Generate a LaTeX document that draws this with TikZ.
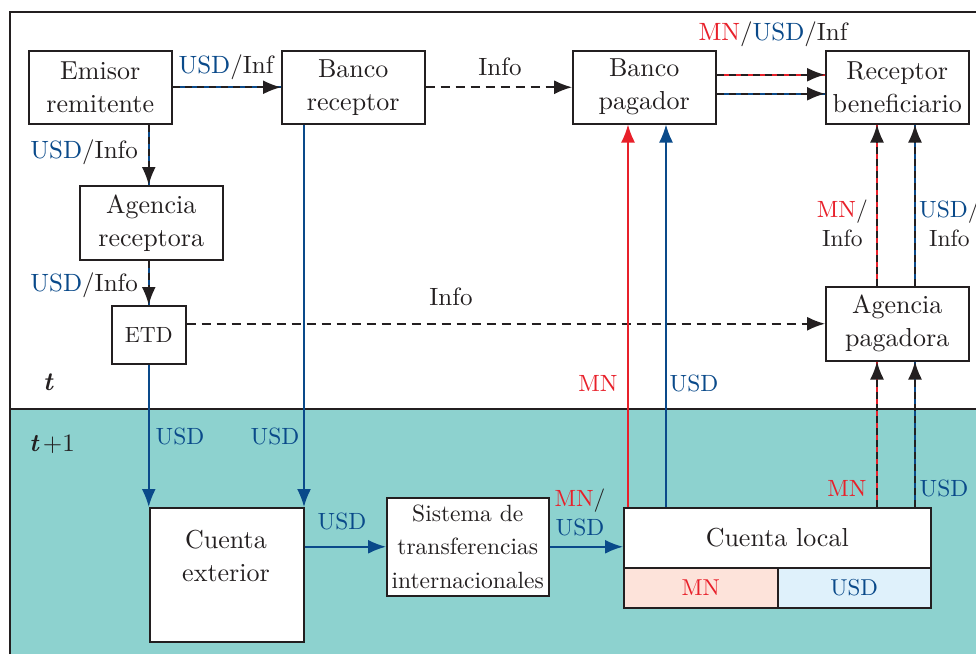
\documentclass[tikz,border=0pt]{standalone}
\usepackage{fontspec}
\setmainfont{lmroman10-regular.otf}[BoldFont=lmroman10-bold.otf, ItalicFont=lmroman10-italic.otf, BoldItalicFont=lmroman10-bolditalic.otf]
\usetikzlibrary{arrows.meta}
\definecolor{myred}{HTML}{E8202A}
\definecolor{myblue}{HTML}{0A4A8A}
\definecolor{tealbg}{HTML}{8DD2CF}
\definecolor{ink}{HTML}{231F20}
\definecolor{pinkfill}{HTML}{FDE3DA}
\definecolor{bluefill}{HTML}{DFF1FB}
\newcommand\comboline[3]{%
  \draw[line width=1.8pt, draw=#1] #2 -- #3;
  \draw[line width=1.8pt, draw=ink, dash pattern=on 7pt off 5pt, tip] #2 -- #3;}
\begin{document}
\begin{tikzpicture}[x=1pt,y=-1pt,
  box/.style={draw=ink, line width=1.5pt, fill=white, align=center, inner sep=0pt, text=ink,
    anchor=north west, font=\fontsize{26}{33}\selectfont},
  lbl/.style={inner sep=0pt, text=ink, font=\fontsize{25}{30}\selectfont, align=center},
  slbl/.style={inner sep=0pt, font=\fontsize{23.5}{29}\selectfont, align=center},
  tip/.style={-{Latex[length=18pt,width=14pt]}},
  infoarrow/.style={line width=1.6pt, draw=ink, dash pattern=on 9pt off 6pt, tip},
  money/.style={line width=1.8pt, draw=#1, tip}]
\clip (0,0) rectangle (976,654);
% background
\fill[white] (0,0) rectangle (976,654);
\fill[tealbg] (10,409) rectangle (976,654);
\draw[ink, line width=1.6pt] (10,654) -- (10,12) -- (976,12);
\draw[ink, line width=1.6pt] (10,409) -- (976,409);
% boxes
\node[box, minimum width=143pt, minimum height=73pt] (emisor) at (28,50) {Emisor\\remitente};
\node[box, minimum width=143pt, minimum height=73pt] (brec) at (281,50) {Banco\\receptor};
\node[box, minimum width=143pt, minimum height=73pt] (bpag) at (572,50) {Banco\\pagador};
\node[box, minimum width=143pt, minimum height=73pt] (rec) at (825,50) {Receptor\\beneficiario};
\node[box, minimum width=143pt, minimum height=74pt] (agrec) at (79,185) {Agencia\\receptora};
\node[box, minimum width=74pt, minimum height=58pt, font=\fontsize{22}{28}\selectfont] (etd) at (111,305) {ETD};
\node[box, minimum width=143pt, minimum height=74pt] (agpag) at (825,286) {Agencia\\pagadora};
\node[box, minimum width=154pt, minimum height=134pt] (cext) at (149,507) {};
\node[lbl, font=\fontsize{26}{33}\selectfont] (cexttxt) at (226,556) {Cuenta\\exterior};
\node[box, minimum width=162pt, minimum height=98pt, font=\fontsize{23.5}{33.5}\selectfont] (sis) at (386,497) {Sistema de\\transferencias\\internacionales};
\node[box, minimum width=307pt, minimum height=60pt] (cl) at (623,507) {Cuenta local};
\node[box, fill=pinkfill, minimum width=154pt, minimum height=40pt, font=\fontsize{23}{28}\selectfont, text=myred] (clmn) at (623,567) {MN};
\node[box, fill=bluefill, minimum width=153pt, minimum height=40pt, font=\fontsize{23}{28}\selectfont, text=myblue] (clusd) at (777,567) {USD};
% connectors top row
\comboline{myblue}{(emisor.east)}{(brec.west)}
\draw[infoarrow] (brec.east) -- (bpag.west);
\comboline{myred}{([yshift=12.5pt]bpag.east)}{([yshift=12.5pt]bpag.east -| rec.west)}
\comboline{myblue}{([yshift=-6.5pt]bpag.east)}{([yshift=-6.5pt]bpag.east -| rec.west)}
% left column
\comboline{myblue}{(emisor.south -| etd)}{(agrec.north -| etd)}
\comboline{myblue}{(agrec.south -| etd)}{(etd.north)}
\draw[money=myblue] (etd.south) -- (etd.south |- cext.north);
\draw[money=myblue] ([xshift=-0.5pt]cext.north east |- brec.south) -- ([xshift=-0.5pt]cext.north east);
\draw[infoarrow] (agpag.west -| etd.east) -- (agpag.west);
% bottom flow
\draw[money=myblue] (sis.west -| cext.east) -- (sis.west);
\draw[money=myblue] (sis.east) -- (sis.east -| cl.west);
% Cuenta local -> Banco pagador
\draw[money=myred] ([xshift=5pt]cl.north west) -- ([xshift=5pt]cl.north west |- bpag.south);
\draw[money=myblue] ([xshift=43pt]cl.north west) -- ([xshift=43pt]cl.north west |- bpag.south);
% Cuenta local -> Agencia pagadora -> Receptor
\comboline{myred}{([xshift=52pt]agpag.south west |- cl.north)}{([xshift=52pt]agpag.south west)}
\comboline{myblue}{([xshift=90pt]agpag.south west |- cl.north)}{([xshift=90pt]agpag.south west)}
\comboline{myred}{([xshift=52pt]agpag.north west)}{([xshift=52pt]agpag.north west |- rec.south)}
\comboline{myblue}{([xshift=90pt]agpag.north west)}{([xshift=90pt]agpag.north west |- rec.south)}
% labels
\node[lbl] (l1) at (226,67) {\textcolor{myblue}{USD}/Inf};
\node[lbl] (l2) at (500,67) {Info};
\node[lbl] (l3) at (773,34) {\textcolor{myred}{MN}/\textcolor{myblue}{USD}/Inf};
\node[lbl, anchor=east] (l4) at (138,152) {\textcolor{myblue}{USD}/Info};
\node[lbl, anchor=east] (l5) at (138,285) {\textcolor{myblue}{USD}/Info};
\node[lbl] (l6) at (451,297) {Info};
\node[slbl, text=myblue] (l7) at (180,436) {USD};
\node[slbl, text=myblue] (l8) at (275,436) {USD};
\node[slbl, text=myred] (l9) at (598,383) {MN};
\node[slbl, text=myblue] (l10) at (694,383) {USD};
\node[slbl, text=myblue] (l11) at (342,521) {USD};
\node[slbl, text=ink] (l12) at (580,512) {\textcolor{myred}{MN}/\\\textcolor{myblue}{USD}};
\node[slbl, text=myred] (l13) at (847,488) {MN};
\node[slbl, text=myblue] (l14) at (944,488) {USD};
\node[slbl, text=ink, anchor=north east] (l15) at (868,200) {\textcolor{myred}{MN}/\\Info};
\node[slbl, text=ink, anchor=north west] (l16) at (919,200) {\textcolor{myblue}{USD}/\\Info};
\node[lbl, font=\fontsize{26}{30}\selectfont] (t0) at (48,382) {\bfseries\itshape t};
\node[lbl, font=\fontsize{25}{30}\selectfont, anchor=west] (t1) at (29,444) {{\bfseries\itshape t}\,+1};
\end{tikzpicture}
\end{document}
